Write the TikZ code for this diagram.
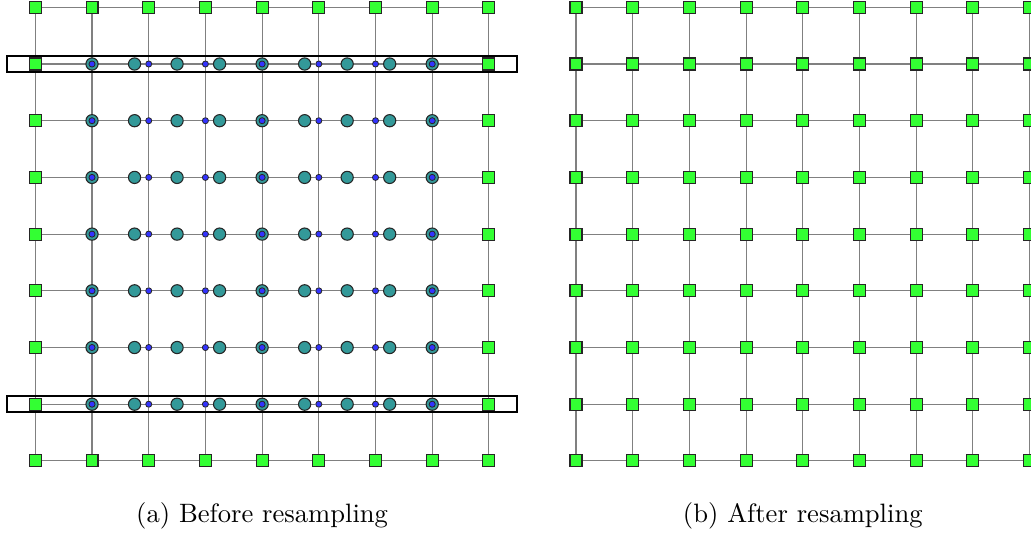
\documentclass[tikz,border=0pt]{standalone}
\usetikzlibrary{backgrounds,calc}

\definecolor{bordergreen}{RGB}{51,255,51}
\definecolor{sampleteal}{RGB}{51,153,153}
\definecolor{pointblue}{RGB}{51,51,255}

\tikzset{
    border/.style={rectangle,draw=black!85,fill=bordergreen,line width=0.4pt,minimum size=4.5pt,inner sep=0pt},
    sample/.style={circle,draw=black!85,fill=sampleteal,line width=0.4pt,minimum size=4.6pt,inner sep=0pt},
    point/.style={circle,draw=black!85,fill=pointblue,line width=0.3pt,minimum size=2.3pt,inner sep=0pt},
    gridline/.style={draw=gray,line width=0.4pt},
    rowbox/.style={draw=black,line width=0.9pt}
}

\begin{document}
\begin{tikzpicture}[x=21.32pt,y=-21.32pt]
\useasboundingbox (-0.623,-0.129) rectangle (17.561,9.36);

% before resampling
\foreach \i in {0,...,8} {%
    \node (before\i-0) at (\i,0) [border] {};
    \node (before\i-8) at (\i,8) [border] {};
}

\foreach \j in {1,...,7} {%
    \node (before0-\j) at (0,\j) [border] {};
    \node (before8-\j) at (8,\j) [border] {};
    \foreach \k in {0,...,8} {%
        \node (sample\k-\j) at (1+0.75*\k,\j) [sample] {};
    }
    \foreach \i in {1,...,7} {%
        \node (before\i-\j) at (\i,\j) [point] {};
    }
}

\begin{scope}[on background layer]
\foreach \a [count=\b] in {0,...,7} {%
    \foreach \c in {0,...,8} {%
        \path[gridline]
            (before\a-\c) edge (before\b-\c)
            (before\c-\a) edge (before\c-\b);
    }
}
\end{scope}

\foreach \j in {1,7} {%
    \draw[rowbox] ($(before0-\j.center)+(-0.5,-0.14)$) rectangle ($(before8-\j.center)+(0.5,0.14)$);
}

\node (captionA) at (4,8.97) {(a) Before resampling};

% after resampling
\begin{scope}[shift={(9.536,0)}]
\foreach \i in {0,...,8} {%
    \foreach \j in {0,...,8} {%
        \node (after\i-\j) at (\i,\j) [border] {};
    }
}

\begin{scope}[on background layer]
\foreach \a [count=\b] in {0,...,7} {%
    \foreach \c in {0,...,8} {%
        \path[gridline]
            (after\a-\c) edge (after\b-\c)
            (after\c-\a) edge (after\c-\b);
    }
}
\end{scope}

\node (captionB) at (4,8.97) {(b) After resampling};
\end{scope}
\end{tikzpicture}
\end{document}
